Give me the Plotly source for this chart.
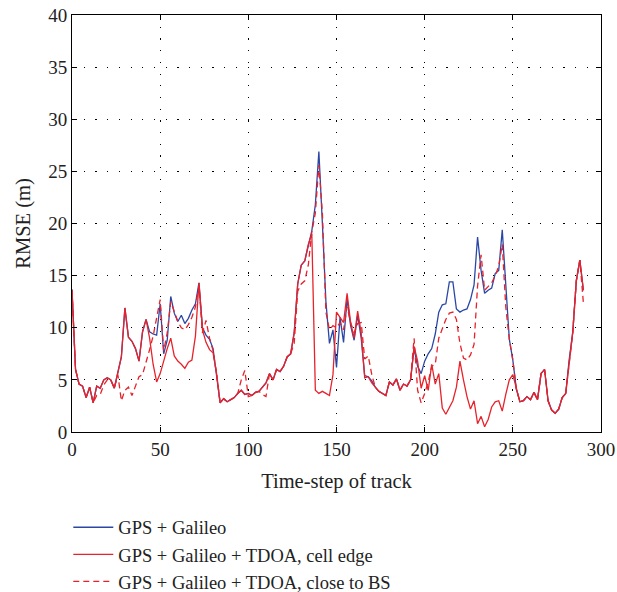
import plotly.graph_objects as go

# Time steps (every 2nd step of the track)
time_step = list(range(0, 291, 2))

gps_galileo = [
    13.7, 6.0, 4.6, 4.4, 3.3, 4.3, 2.8, 4.4, 4.2, 5.0,
    5.2, 5.0, 4.2, 5.6, 7.2, 11.9, 9.1, 8.7, 8.0, 6.8,
    9.6, 10.8, 9.6, 9.4, 9.3, 12.3, 7.5, 8.8, 13.0, 11.4,
    10.6, 11.2, 10.4, 10.9, 11.7, 12.3, 14.3, 10.0, 9.3, 8.9,
    8.0, 5.4, 2.8, 3.2, 2.9, 3.1, 3.3, 3.7, 4.0, 3.6,
    3.7, 3.5, 3.8, 3.9, 4.3, 4.7, 5.6, 5.0, 6.0, 5.8,
    6.3, 7.2, 7.5, 9.5, 14.2, 16.0, 16.4, 18.0, 19.3, 21.8,
    26.9, 20.0, 12.5, 8.5, 9.8, 6.2, 11.0, 8.6, 12.8, 10.2,
    8.8, 11.2, 9.0, 5.4, 5.3, 4.9, 4.3, 3.9, 3.7, 3.5,
    4.8, 4.5, 5.1, 4.0, 4.6, 4.4, 5.0, 8.0, 6.3, 5.6,
    6.8, 7.5, 8.0, 9.4, 11.5, 12.2, 12.3, 14.4, 14.4, 11.8,
    11.5, 11.7, 11.8, 12.7, 14.1, 18.7, 15.5, 13.3, 13.6, 13.8,
    15.2, 15.5, 19.4, 14.5, 8.9, 6.9, 4.1, 2.9, 3.0, 3.4,
    3.1, 3.8, 3.1, 5.6, 6.0, 3.0, 2.1, 1.8, 2.2, 3.3,
    3.7, 7.0, 9.6, 14.5, 16.5, 13.6,
]

tdoa_cell_edge = [
    13.6, 6.0, 4.6, 4.4, 3.3, 4.3, 2.8, 4.4, 4.2, 5.0,
    5.2, 5.0, 4.2, 5.6, 7.2, 11.9, 9.1, 8.7, 8.0, 6.8,
    9.6, 10.8, 9.0, 6.5, 4.8, 5.6, 6.9, 8.0, 9.0, 7.3,
    6.8, 6.5, 6.1, 6.7, 6.9, 9.2, 14.3, 9.8, 8.6, 7.9,
    7.6, 5.6, 2.8, 3.2, 2.9, 3.1, 3.3, 3.7, 4.0, 3.6,
    3.7, 3.5, 3.8, 3.9, 4.3, 4.7, 5.6, 5.0, 6.0, 5.8,
    6.3, 7.2, 7.5, 9.5, 14.2, 16.0, 16.4, 18.0, 19.0, 4.0,
    3.7, 3.9, 3.7, 3.5, 5.5, 11.5, 11.0, 10.5, 13.3, 10.5,
    9.0, 11.6, 9.5, 5.2, 5.3, 4.7, 4.3, 3.9, 3.7, 3.5,
    4.8, 4.5, 5.1, 4.0, 4.6, 4.4, 5.0, 8.2, 6.8, 4.2,
    5.4, 4.0, 6.5, 4.6, 5.6, 2.3, 1.7, 2.4, 3.0, 4.3,
    6.8, 5.0, 3.4, 2.2, 3.0, 0.8, 1.5, 0.5, 1.2, 2.4,
    2.9, 3.0, 2.0, 3.6, 5.0, 5.5, 4.1, 2.9, 3.0, 3.4,
    3.1, 3.8, 3.1, 5.6, 6.0, 3.0, 2.1, 1.8, 2.2, 3.3,
    3.7, 7.0, 9.6, 14.5, 16.5, 13.6,
]

tdoa_close_bs = [
    13.6, 6.0, 4.6, 4.4, 3.3, 4.3, 2.8, 3.5, 3.6, 4.5,
    5.0, 5.0, 4.2, 5.5, 3.0, 4.0, 4.3, 3.5, 4.4, 5.3,
    5.5, 6.6, 7.9, 9.2, 11.0, 12.7, 7.8, 9.5, 12.5, 11.5,
    10.6, 10.0, 9.8, 10.3, 11.0, 12.0, 14.0, 9.5, 10.7, 9.0,
    7.8, 5.6, 2.8, 3.2, 2.9, 3.1, 3.3, 3.7, 5.0, 5.9,
    3.4, 3.5, 3.8, 3.9, 3.6, 3.4, 5.6, 5.0, 6.0, 5.8,
    6.3, 7.2, 7.5, 8.5, 13.5, 14.2, 14.5, 16.0, 19.2, 21.0,
    25.6, 21.0, 11.5, 9.8, 10.2, 10.0, 10.5, 9.8, 12.0, 10.5,
    9.5, 10.4, 10.5, 7.0, 7.3, 5.5, 4.3, 3.9, 3.7, 3.5,
    4.8, 4.5, 5.1, 4.0, 4.6, 4.4, 5.0, 9.0, 4.0, 2.8,
    3.7, 4.8, 6.3, 6.5, 9.0, 10.0, 10.8, 11.4, 11.5, 10.8,
    8.5, 7.1, 6.9, 7.4, 8.4, 14.0, 17.0, 13.6, 14.0, 14.3,
    15.0, 15.9, 18.0, 12.0, 8.9, 6.9, 4.1, 2.9, 3.0, 3.4,
    3.1, 3.8, 3.1, 5.6, 6.0, 3.0, 2.1, 1.8, 2.2, 3.3,
    3.7, 7.0, 9.6, 14.5, 16.5, 12.4,
]

x_ticks = [0, 50, 100, 150, 200, 250, 300]
y_ticks = [0, 5, 10, 15, 20, 25, 30, 35, 40]

BLUE = "#2a47a6"
RED = "#e8222b"
FONT = "Liberation Serif"
TXT = "#222222"

fig = go.Figure()
fig.add_trace(go.Scatter(x=time_step, y=gps_galileo, mode="lines",
                         name="GPS + Galileo",
                         line=dict(color=BLUE, width=1.3)))
fig.add_trace(go.Scatter(x=time_step, y=tdoa_cell_edge, mode="lines",
                         name="GPS + Galileo + TDOA, cell edge",
                         line=dict(color=RED, width=1.3)))
fig.add_trace(go.Scatter(x=time_step, y=tdoa_close_bs, mode="lines",
                         name="GPS + Galileo + TDOA, close to BS",
                         line=dict(color=RED, width=1.3, dash="6px,4px")))

axis_common = dict(
    showline=True, linecolor="black", linewidth=1, mirror="ticks",
    ticks="inside", ticklen=5, tickcolor="black",
    showgrid=True, gridcolor="black", gridwidth=1, griddash="1.2px,10.5px",
    zeroline=False, tickfont=dict(family=FONT, size=19, color=TXT),
    automargin=False,
)

fig.update_xaxes(range=[0, 300], tickvals=x_ticks,
                 title=dict(text="Time-step of track",
                            font=dict(family=FONT, size=20.5, color=TXT), standoff=14),
                 **axis_common)
fig.update_yaxes(range=[0, 40], tickvals=y_ticks,
                 title=dict(text="RMSE (m)",
                            font=dict(family=FONT, size=20.5, color=TXT), standoff=12),
                 **axis_common)

fig.update_layout(
    width=617, height=592,
    margin=dict(l=72, r=16, t=15, b=160, autoexpand=False),
    plot_bgcolor="white", paper_bgcolor="white",
    showlegend=True,
    legend=dict(x=-0.007, y=-0.184, xanchor="left", yanchor="top",
                font=dict(family=FONT, size=18.5, color=TXT),
                bgcolor="rgba(0,0,0,0)", itemwidth=40, tracegroupgap=0),
)

fig.write_html("out.html")
